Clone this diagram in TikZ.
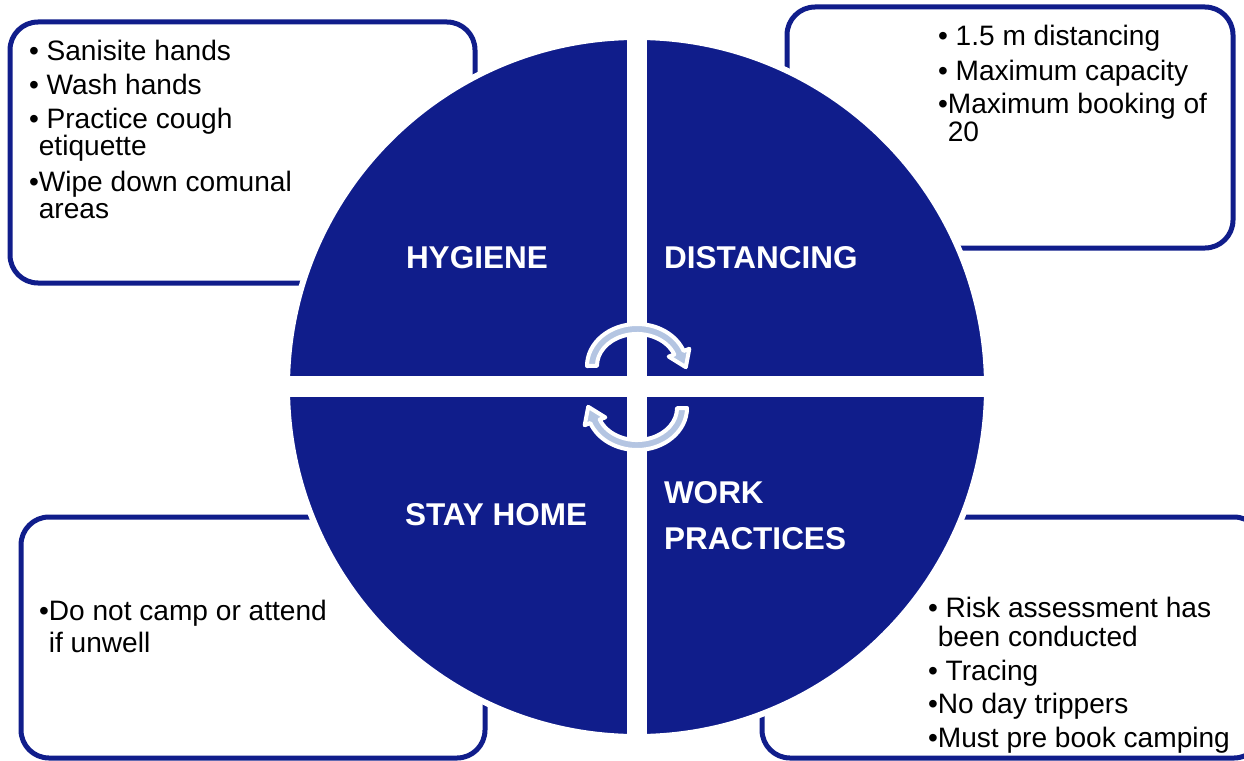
\documentclass[tikz,border=0pt]{standalone}
\usepackage{fontspec}
\setmainfont{Liberation Sans}
\definecolor{navy}{RGB}{16,29,139}
\definecolor{lightarrow}{RGB}{180,197,226}
\begin{document}
\begin{tikzpicture}[x=1pt,y=-1pt,
  infobox/.style={draw=navy, line width=5pt, fill=white, rounded corners=28pt},
  itemtext/.style={anchor=base west, inner sep=0pt, outer sep=0pt, font=\fontsize{28.1}{34}\selectfont, text=black},
  heading/.style={anchor=base west, inner sep=0pt, outer sep=0pt, font=\fontsize{31.5}{37}\selectfont\bfseries, text=white},
  arrowband/.style={fill=lightarrow, draw=white, line width=4pt, line join=round}]
\useasboundingbox (0,0) rectangle (1244,760);
\clip (0,0) rectangle (1244,760);

% boxes
\draw[infobox] (10,22) rectangle (475,283);
\draw[infobox] (787,7) rectangle (1233,248);
\draw[infobox] (21,517) rectangle (485,758);
\draw[infobox] (762,517) rectangle (1262,758);

% circle
\filldraw[fill=navy, draw=white, line width=6pt] (637,387) circle[radius=350pt];
\fill[white] (627,30) rectangle (647,745);
\fill[white] (280,376) rectangle (995,397);

% circular arrows
\path[arrowband] (637,366) ++(180:50 and 42)
  arc[start angle=180, end angle=339, x radius=50, y radius=42]
  -- (689.3,348.8) -- (685.8,367.2) -- (668.7,356.6) -- (674.3,354.5)
  arc[start angle=339, end angle=180, x radius=40, y radius=32] -- cycle;
\begin{scope}[rotate around={180:(637,387)}]
\path[arrowband] (637,366) ++(180:50 and 42)
  arc[start angle=180, end angle=339, x radius=50, y radius=42]
  -- (689.3,348.8) -- (685.8,367.2) -- (668.7,356.6) -- (674.3,354.5)
  arc[start angle=339, end angle=180, x radius=40, y radius=32] -- cycle;
\end{scope}

% headings
\node[heading] (hyg) at (406,268) {HYGIENE};
\node[heading] (dis) at (664,268) {DISTANCING};
\node[heading] (sta) at (405,525) {STAY HOME};
\node[heading] (wo1) at (664,503) {WORK};
\node[heading] (wo2) at (664,549) {PRACTICES};

% top-left text
\node[itemtext] (a1) at (29,60) {\textbullet\ Sanisite hands};
\node[itemtext] (a2) at (29,94) {\textbullet\ Wash hands};
\node[itemtext] (a3) at (29,128) {\textbullet\ Practice cough};
\node[itemtext] (a4) at (29,155) {\phantom{\textbullet}etiquette};
\node[itemtext] (a5) at (29,191) {\textbullet Wipe down comunal};
\node[itemtext] (a6) at (29,218) {\phantom{\textbullet}areas};

% top-right text
\node[itemtext] (b1) at (938,46) {\textbullet\ 1.5 m distancing};
\node[itemtext] (b2) at (938,80) {\textbullet\ Maximum capacity};
\node[itemtext] (b3) at (938,113) {\textbullet Maximum booking of};
\node[itemtext] (b4) at (938,141) {\phantom{\textbullet}20};

% bottom-left text
\node[itemtext] (c1) at (39,620) {\textbullet Do not camp or attend};
\node[itemtext] (c2) at (39,652) {\phantom{\textbullet}if unwell};

% bottom-right text
\node[itemtext] (d1) at (928,617) {\textbullet\ Risk assessment has};
\node[itemtext] (d2) at (928,646) {\phantom{\textbullet}been conducted};
\node[itemtext] (d3) at (928,680) {\textbullet\ Tracing};
\node[itemtext] (d4) at (928,713) {\textbullet No day trippers};
\node[itemtext] (d5) at (928,747) {\textbullet Must pre book camping};
\end{tikzpicture}
\end{document}
